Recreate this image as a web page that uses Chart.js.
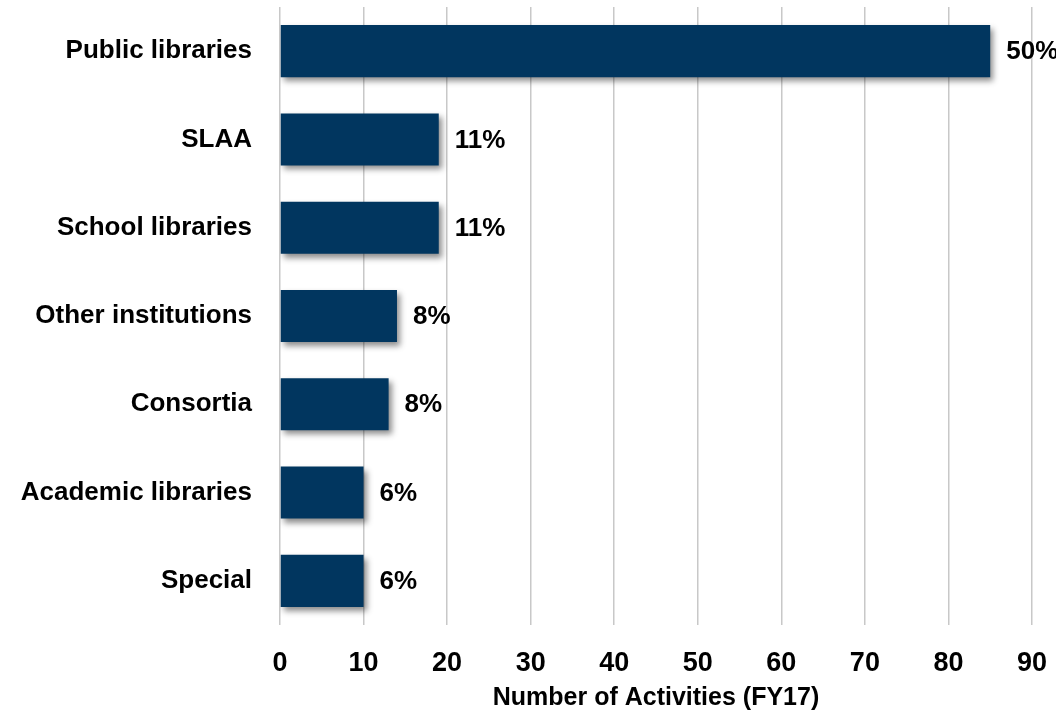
<!DOCTYPE html>
<html>
<head>
<meta charset="utf-8">
<script src="https://cdn.jsdelivr.net/npm/chart.js@4/dist/chart.umd.min.js"></script>
<style>
  html, body { margin: 0; padding: 0; background: #ffffff; }
  #wrap { width: 1056px; height: 715px; position: relative; }
</style>
</head>
<body>
<div id="wrap"><canvas id="c" width="1056" height="715"></canvas></div>
<script>
const categories = ["Public libraries", "SLAA", "School libraries", "Other institutions", "Consortia", "Academic libraries", "Special"];
const activities = [85, 19, 19, 14, 13, 10, 10];
const pctLabels = ["50%", "11%", "11%", "8%", "8%", "6%", "6%"];
const xTicks = [0, 10, 20, 30, 40, 50, 60, 70, 80, 90];
const xTitle = "Number of Activities (FY17)";

const FONT = "'Liberation Sans', Arial, sans-serif";

const shadowPlugin = {
  id: 'barShadow',
  beforeDatasetsDraw(chart) {
    const ctx = chart.ctx;
    ctx.save();
    ctx.shadowColor = 'rgba(0,0,0,0.45)';
    ctx.shadowBlur = 6;
    ctx.shadowOffsetX = 3;
    ctx.shadowOffsetY = 4;
  },
  afterDatasetsDraw(chart) {
    chart.ctx.restore();
  }
};

const labelPlugin = {
  id: 'endLabels',
  afterDraw(chart) {
    const ctx = chart.ctx;
    const meta = chart.getDatasetMeta(0);
    ctx.save();
    ctx.font = "bold 26px " + FONT;
    ctx.fillStyle = '#000000';
    ctx.textAlign = 'left';
    ctx.textBaseline = 'middle';
    meta.data.forEach((bar, i) => {
      ctx.fillText(pctLabels[i], bar.x + 16, bar.y + 1);
    });
    ctx.restore();
  }
};

new Chart(document.getElementById('c'), {
  type: 'bar',
  data: {
    labels: categories,
    datasets: [{
      data: activities,
      backgroundColor: '#01365F',
      borderWidth: 0,
      barPercentage: 0.59,
      categoryPercentage: 1.0
    }]
  },
  plugins: [shadowPlugin, labelPlugin],
  options: {
    indexAxis: 'y',
    responsive: false,
    animation: false,
    layout: { padding: { top: 7, right: 24, left: 0, bottom: 0 } },
    plugins: { legend: { display: false }, tooltip: { enabled: false } },
    scales: {
      x: {
        min: 0, max: 90,
        afterBuildTicks(scale) { scale.ticks = xTicks.map(v => ({ value: v })); },
        afterFit(scale) { scale.height = 90; scale.paddingLeft = 0; scale.paddingRight = 0; },
        grid: { color: '#c8c8c8', lineWidth: 1.5, drawTicks: false },
        border: { display: false },
        ticks: {
          color: '#000000',
          font: { family: FONT, size: 27, weight: 'bold' },
          padding: 22,
          maxRotation: 0
        },
        title: {
          display: true,
          text: xTitle,
          color: '#000000',
          font: { family: FONT, size: 25, weight: 'bold' },
          padding: { top: 0, bottom: 2 }
        }
      },
      y: {
        afterFit(scale) { scale.width = 280; scale.paddingTop = 0; scale.paddingBottom = 0; },
        grid: { display: false, drawTicks: false },
        border: { display: false },
        ticks: {
          color: '#000000',
          font: { family: FONT, size: 26, weight: 'bold' },
          padding: 28
        }
      }
    }
  }
});
</script>
</body>
</html>
